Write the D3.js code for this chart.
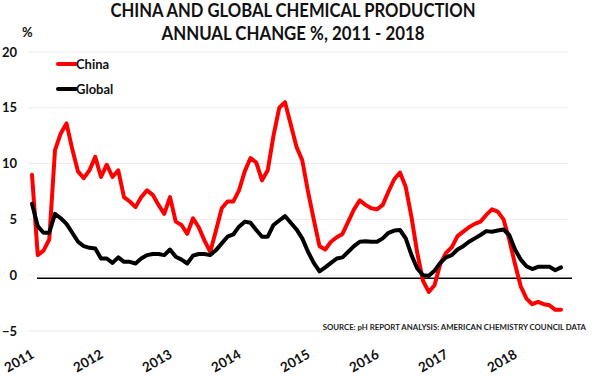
<!DOCTYPE html>
<html>
<head>
<meta charset="utf-8">
<script src="https://cdn.jsdelivr.net/npm/d3@7"></script>
<style>
  html, body { margin: 0; padding: 0; background: #fff; }
  svg { display: block; font-family: Lato, "Open Sans", sans-serif; font-weight: bold; }
</style>
</head>
<body>
<svg id="chart" width="598" height="379"></svg>
<script>
const titleLines = ["CHINA AND GLOBAL CHEMICAL PRODUCTION", "ANNUAL CHANGE %, 2011 - 2018"];
const titleWidths = [365, 263];
const yTicks = [-5, 0, 5, 10, 15, 20];
const yearLabels = ["2011", "2012", "2013", "2014", "2015", "2016", "2017", "2018"];
const yearIndex = [0, 12, 24, 36, 48, 60, 72, 84];
const sourceText = "SOURCE: pH REPORT ANALYSIS: AMERICAN CHEMISTRY COUNCIL DATA";
const seriesNames = ["China", "Global"];
const seriesColors = ["#ff0000", "#000000"];

// Monthly values, Jan 2011 .. Sep 2018
const china = [
  9.0, 1.8, 2.2, 3.2, 11.2, 12.7, 13.6, 11.3, 9.3, 8.7, 9.4, 10.6,
  8.8, 9.9, 8.8, 9.4, 7.0, 6.6, 6.1, 7.0, 7.6, 7.2, 6.3, 5.5,
  7.0, 4.8, 4.5, 3.7, 5.1, 4.3, 3.1, 2.1, 4.0, 6.0, 6.6, 6.6,
  7.6, 9.3, 10.5, 10.1, 8.5, 9.4, 12.5, 15.0, 15.5, 13.5, 11.5, 10.3,
  7.5, 5.0, 2.6, 2.3, 3.0, 3.4, 3.7, 4.8, 5.9, 6.7, 6.3, 6.0,
  5.9, 6.3, 7.5, 8.6, 9.2, 7.9, 5.2, 2.0, -0.5, -1.5, -0.9, 1.0,
  2.0, 2.5, 3.5, 3.9, 4.3, 4.6, 4.8, 5.4, 5.9, 5.7, 5.0, 3.2,
  1.0, -1.0, -2.1, -2.6, -2.4, -2.6, -2.7, -3.1, -3.1
];
const global = [
  6.4, 4.4, 3.8, 3.8, 5.5, 5.1, 4.6, 3.8, 3.0, 2.6, 2.45, 2.4,
  1.5, 1.5, 1.1, 1.6, 1.2, 1.2, 1.05, 1.5, 1.8, 1.9, 1.9, 1.8,
  2.3, 1.65, 1.4, 1.05, 1.75, 1.9, 1.9, 1.8, 2.25, 2.85, 3.45, 3.65,
  4.35, 4.8, 4.7, 4.05, 3.45, 3.45, 4.5, 4.9, 5.3, 4.7, 4.1, 3.3,
  2.1, 1.1, 0.35, 0.7, 1.1, 1.5, 1.6, 2.1, 2.6, 3.0, 3.05, 3.0,
  3.0, 3.3, 3.8, 4.0, 4.05, 3.3, 1.8, 0.6, 0.0, -0.05, 0.4, 1.1,
  1.6, 1.8, 2.3, 2.6, 3.0, 3.3, 3.6, 3.95, 3.9, 4.0, 4.1, 3.6,
  2.3, 1.4, 0.8, 0.55, 0.75, 0.75, 0.75, 0.45, 0.7
];

const svg = d3.select("#chart");
const x = d3.scaleLinear().domain([0, 92]).range([32, 561]);
const y = d3.scaleLinear().domain([-5, 20]).range([331, 52]);

// gridlines
svg.append("g").selectAll("line").data(yTicks).join("line")
  .attr("x1", 28).attr("x2", 568)
  .attr("y1", d => y(d)).attr("y2", d => y(d))
  .attr("stroke", "#ebebeb").attr("stroke-width", 1);

// y axis labels
const yAxis = d3.axisLeft(y).tickValues(yTicks).tickSize(0).tickPadding(0);
const gy = svg.append("g").attr("transform", "translate(17,0)").call(yAxis);
gy.select(".domain").remove();
gy.selectAll("text").attr("font-size", 13).attr("font-weight", "bold")
  .attr("font-family", "Lato, sans-serif").attr("fill", "#111");

svg.append("text").attr("x", 22).attr("y", 37).attr("font-size", 13)
  .attr("fill", "#111").text("%");

// zero line
svg.append("line").attr("x1", 37).attr("x2", 572)
  .attr("y1", y(0) + 3).attr("y2", y(0) + 3)
  .attr("stroke", "#000").attr("stroke-width", 1.6);

// lines
const line = d3.line().x((d, i) => x(i)).y(d => y(d));
[china, global].forEach((s, k) => {
  svg.append("path").datum(s)
    .attr("fill", "none").attr("stroke", seriesColors[k])
    .attr("stroke-width", 4).attr("stroke-linejoin", "round")
    .attr("stroke-linecap", "round").attr("d", line);
});

// x labels
svg.append("g").selectAll("text").data(yearLabels).join("text")
  .attr("transform", (d, i) => `translate(${x(yearIndex[i]) + 3},357) rotate(-30)`)
  .attr("text-anchor", "end").attr("font-size", 13.5).attr("fill", "#111")
  .text(d => d);

// legend
const leg = svg.append("g");
seriesNames.forEach((n, k) => {
  const ly = 64 + k * 25;
  leg.append("line").attr("x1", 58).attr("x2", 76).attr("y1", ly).attr("y2", ly)
    .attr("stroke", seriesColors[k]).attr("stroke-width", 4).attr("stroke-linecap", "round");
  leg.append("text").attr("x", 76).attr("y", ly + 5).attr("font-size", 13)
    .attr("fill", "#111").text(n);
});

// title
svg.append("g").selectAll("text").data(titleLines).join("text")
  .attr("x", 293).attr("y", (d, i) => 17 + i * 23)
  .attr("text-anchor", "middle").attr("font-size", 18).attr("fill", "#111")
  .attr("textLength", (d, i) => titleWidths[i]).attr("lengthAdjust", "spacingAndGlyphs")
  .text(d => d);

// source
svg.append("text").attr("x", 586).attr("y", 330).attr("text-anchor", "end")
  .attr("font-size", 7.8).attr("fill", "#222")
  .text(sourceText);
</script>
</body>
</html>
